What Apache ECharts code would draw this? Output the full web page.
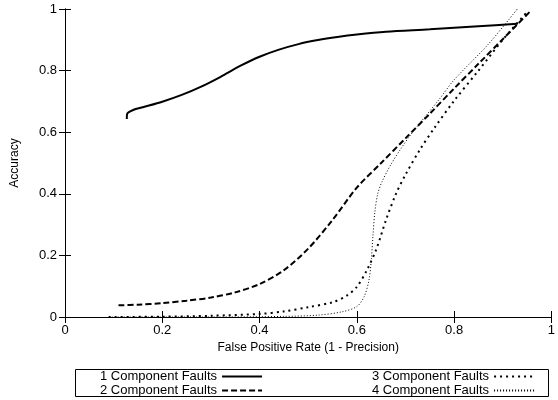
<!DOCTYPE html>
<html>
<head>
<meta charset="utf-8">
<script src="https://cdn.jsdelivr.net/npm/echarts@6/dist/echarts.min.js"></script>
<style>
  html, body { margin: 0; padding: 0; background: #fff; }
  #chart { width: 558px; height: 400px; }
</style>
</head>
<body>
<div id="chart"></div>
<script>
// axis ticks
const xTicks = [0, 0.2, 0.4, 0.6, 0.8, 1];
const yTicks = [0, 0.2, 0.4, 0.6, 0.8, 1];

// series names
const names = ['1 Component Faults', '2 Component Faults', '3 Component Faults', '4 Component Faults'];

// [false positive rate, accuracy]
const fault1 = [
  [0.127, 0.643], [0.128, 0.660], [0.14, 0.672], [0.16, 0.681], [0.20, 0.699],
  [0.24, 0.721], [0.28, 0.748], [0.32, 0.780], [0.36, 0.815], [0.40, 0.845],
  [0.44, 0.868], [0.48, 0.886], [0.52, 0.899], [0.56, 0.909], [0.60, 0.917],
  [0.66, 0.926], [0.75, 0.934], [0.85, 0.944], [0.93, 0.952]
];
const fault2 = [
  [0.11, 0.038], [0.15, 0.040], [0.20, 0.045], [0.25, 0.053], [0.30, 0.063],
  [0.35, 0.080], [0.40, 0.107], [0.45, 0.152], [0.50, 0.222], [0.55, 0.315],
  [0.60, 0.420], [0.65, 0.500], [0.70, 0.580], [0.75, 0.660], [0.80, 0.742],
  [0.85, 0.822], [0.90, 0.902], [0.955, 0.990]
];
const fault3 = [
  [0.09, 0.0], [0.20, 0.001], [0.30, 0.004], [0.40, 0.010], [0.45, 0.018],
  [0.50, 0.032], [0.55, 0.048], [0.58, 0.070], [0.60, 0.098], [0.62, 0.150],
  [0.64, 0.220], [0.66, 0.315], [0.68, 0.398], [0.70, 0.462], [0.73, 0.544],
  [0.76, 0.615], [0.80, 0.702], [0.85, 0.800], [0.90, 0.900], [0.95, 0.990]
];
const fault4 = [
  [0.09, 0.0], [0.30, 0.0], [0.45, 0.002], [0.52, 0.006], [0.57, 0.017],
  [0.60, 0.034], [0.615, 0.066], [0.625, 0.120], [0.630, 0.190], [0.633, 0.260],
  [0.637, 0.340], [0.643, 0.400], [0.652, 0.440], [0.67, 0.495], [0.69, 0.545],
  [0.71, 0.590], [0.73, 0.630], [0.77, 0.708], [0.80, 0.770], [0.87, 0.885],
  [0.93, 1.0]
];

const font = 'Liberation Sans, Arial, Helvetica, sans-serif';
const black = '#000';

const chart = echarts.init(document.getElementById('chart'));

const axisCommon = {
  type: 'value',
  min: 0,
  max: 1,
  interval: 0.2,
  axisLine: { show: true, lineStyle: { color: black, width: 1 } },
  axisTick: { show: true, inside: true, length: 6, lineStyle: { color: black } },
  splitLine: { show: false }
};

const lineSeries = (name, data, width, type, smooth) => ({
  name: name,
  type: 'line',
  data: data,
  xAxisIndex: 0,
  yAxisIndex: 0,
  showSymbol: false,
  symbol: 'none',
  smooth: smooth,
  lineStyle: { color: black, width: width, type: type },
  itemStyle: { color: black },
  animation: false
});

const legendCommon = {
  orient: 'vertical',
  top: 370,
  align: 'right',
  itemWidth: 40,
  itemHeight: 10,
  itemGap: 1,
  padding: 0,
  itemStyle: { opacity: 0 },
  textStyle: { fontSize: 13, lineHeight: 12, color: black, fontFamily: font }
};

const option = {
  backgroundColor: '#fff',
  animation: false,
  textStyle: { fontFamily: font, color: black },
  grid: { left: 65, right: 0, top: 9, bottom: 83 },
  xAxis: [
    Object.assign({}, axisCommon, {
      position: 'bottom',
      name: 'False Positive Rate (1 - Precision)',
      nameLocation: 'middle',
      nameGap: 25,
      nameTextStyle: { fontSize: 12, color: black, fontFamily: font },
      axisLabel: {
        margin: 7, fontSize: 13, color: black, fontFamily: font,
        formatter: v => xTicks.includes(+v.toFixed(1)) ? String(+v.toFixed(1)) : ''
      }
    }),
    Object.assign({}, axisCommon, { position: 'top', axisLabel: { show: false } })
  ],
  yAxis: [
    Object.assign({}, axisCommon, {
      position: 'left',
      name: 'Accuracy',
      nameLocation: 'middle',
      nameGap: 44,
      nameTextStyle: { fontSize: 12, color: black, fontFamily: font },
      axisLabel: {
        margin: 8, fontSize: 13, color: black, fontFamily: font,
        formatter: v => yTicks.includes(+v.toFixed(1)) ? String(+v.toFixed(1)) : ''
      }
    }),
    Object.assign({}, axisCommon, { position: 'right', axisLabel: { show: false } })
  ],
  legend: [
    Object.assign({}, legendCommon, { data: names.slice(0, 2), left: 100 }),
    Object.assign({}, legendCommon, { data: names.slice(2, 4), left: 372 })
  ],
  graphic: [
    {
      type: 'rect',
      shape: { x: 75.5, y: 369.5, width: 473, height: 27 },
      style: { fill: 'none', stroke: black, lineWidth: 1 },
      silent: true
    }
  ],
  series: [
    lineSeries(names[0], fault1, 2, 'solid', 0.3),
    lineSeries(names[1], fault2, 2, [6, 3], 0.3),
    lineSeries(names[2], fault3, 2, [2, 4], 0.3),
    lineSeries(names[3], fault4, 1, [1, 2], 0.3)
  ]
};

chart.setOption(option);
</script>
</body>
</html>
